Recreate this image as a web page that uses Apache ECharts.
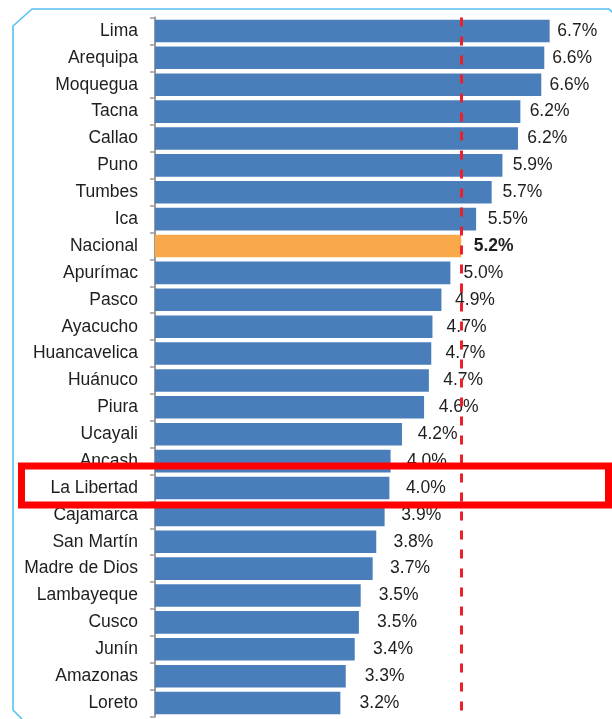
<!DOCTYPE html>
<html>
<head>
<meta charset="utf-8">
<script src="https://cdn.jsdelivr.net/npm/echarts@6/dist/echarts.min.js"></script>
<style>
html,body{margin:0;padding:0;background:#fff;}
#chart{width:612px;height:719px;}
</style>
</head>
<body>
<div id="chart"></div>
<script>
const regions = ["Lima","Arequipa","Moquegua","Tacna","Callao","Puno","Tumbes","Ica","Nacional","Apurímac","Pasco","Ayacucho","Huancavelica","Huánuco","Piura","Ucayali","Ancash","La Libertad","Cajamarca","San Martín","Madre de Dios","Lambayeque","Cusco","Junín","Amazonas","Loreto"];
const values = [6.70,6.61,6.56,6.21,6.17,5.91,5.73,5.47,5.22,5.04,4.89,4.74,4.72,4.68,4.60,4.23,4.04,4.02,3.94,3.80,3.74,3.54,3.51,3.44,3.29,3.20];
const nationalName = "Nacional";
const nationalValue = 5.22;

const BLUE = '#4a7ebb', ORANGE = '#f9a84a';

const chart = echarts.init(document.getElementById('chart'), null, {renderer: 'canvas'});

const seriesData = values.map((v, i) => {
  const isNat = regions[i] === nationalName;
  return {
    value: v,
    itemStyle: {color: isNat ? ORANGE : BLUE},
    label: {
      distance: 29.7 - 3.29 * v,
      fontWeight: isNat ? 'bold' : 'normal'
    }
  };
});

chart.setOption({
  backgroundColor: '#ffffff',
  animation: false,
  grid: {left: 155, top: 17.5, width: 442.5, height: 699, containLabel: false},
  xAxis: {
    type: 'value', min: 0.1, max: 7.5,
    show: false, splitLine: {show: false}
  },
  yAxis: {
    type: 'category', data: regions, inverse: true,
    axisLine: {show: true, lineStyle: {color: '#9a9a9a', width: 2}},
    axisTick: {show: true, length: 5, lineStyle: {color: '#9a9a9a', width: 1.5}},
    axisLabel: {
      margin: 17, color: '#1e1e1e', fontSize: 17.5,
      fontFamily: 'Liberation Sans, Arial, sans-serif'
    }
  },
  series: [{
    type: 'bar',
    data: seriesData,
    barCategoryGap: '16%',
    clip: true,
    label: {
      show: true, position: 'right',
      color: '#1e1e1e', fontSize: 17.5,
      fontFamily: 'Liberation Sans, Arial, sans-serif',
      formatter: p => p.value.toFixed(1) + '%'
    },
    markLine: {
      silent: true, symbol: 'none',
      label: {show: false},
      lineStyle: {color: '#e8212b', width: 3, type: [9, 10]},
      data: [{xAxis: nationalValue}]
    }
  }],
  graphic: [
    {
      type: 'polyline', z: 100,
      shape: {points: [[22, 719], [13, 710], [13, 26], [32, 9], [609, 9], [616, 16]]},
      style: {stroke: '#55c2f0', lineWidth: 1.6, fill: null}
    },
    {
      type: 'rect', z: 101,
      shape: {x: 21.5, y: 466, width: 587, height: 39},
      style: {stroke: '#ff0000', lineWidth: 7, fill: null}
    }
  ]
});
</script>
</body>
</html>
